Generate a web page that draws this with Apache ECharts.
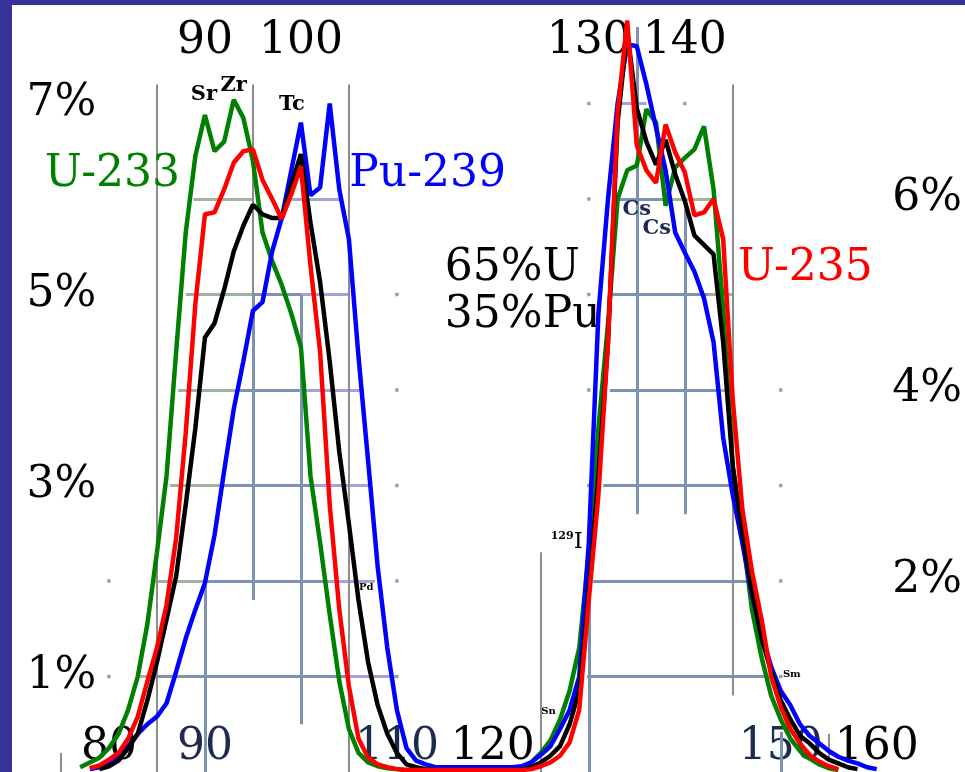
<!DOCTYPE html>
<html><head><meta charset="utf-8">
<style>html,body{margin:0;padding:0;background:#fff;overflow:hidden}#c{width:965px;height:772px}</style>
<script src="https://cdn.jsdelivr.net/npm/echarts@6.0.0/dist/echarts.min.js"></script>
</head><body><div id="c"></div>
<script>
// ---- data (fission product yield, % per mass number) ----
const masses = [76,77,78,79,80,81,82,83,84,85,
  86,87,88,89,90,91,92,93,94,95,
  96,97,98,99,100,101,102,103,104,105,
  106,107,108,109,110,111,112,113,114,115,
  116,117,118,119,120,121,122,123,124,125,
  126,127,128,129,130,131,132,133,134,135,
  136,137,138,139,140,141,142,143,144,145,
  146,147,148,149,150,151,152,153,154,155,
  156,157,158,159,160,161];
const u233 = [null,0.05,0.10,0.15,0.25,0.40,0.65,1.00,1.55,2.30,
  3.10,4.40,5.65,6.45,6.88,6.50,6.60,7.04,6.85,6.40,
  5.65,5.35,5.10,4.80,4.45,3.10,2.40,1.65,0.95,0.45,
  0.20,0.10,0.06,0.04,0.03,0.02,0.02,0.02,0.02,0.02,
  0.02,0.02,0.02,0.02,0.02,0.02,0.02,0.04,0.10,0.20,
  0.33,0.55,0.85,1.30,2.30,3.60,4.70,6.00,6.30,6.35,
  6.94,6.80,5.93,6.33,6.43,6.52,6.76,6.10,4.85,3.20,
  2.50,1.70,1.20,0.80,0.55,0.35,0.22,0.14,0.08,0.04,
  0.02,null,null,null,null,null];
const u235 = [null,null,0.04,0.07,0.13,0.20,0.35,0.58,0.95,1.30,
  1.75,2.45,3.55,4.90,5.84,5.86,6.10,6.38,6.50,6.52,
  6.20,6.00,5.79,6.05,6.34,5.30,4.40,2.80,1.70,0.90,
  0.35,0.15,0.08,0.05,0.03,0.02,0.02,0.02,0.02,0.02,
  0.02,0.02,0.02,0.02,0.02,0.02,0.02,0.02,0.03,0.06,
  0.10,0.17,0.31,0.65,1.80,2.90,4.50,6.90,7.87,6.56,
  6.30,6.17,6.78,6.49,6.28,5.83,5.86,6.00,5.58,3.90,
  2.75,2.10,1.60,1.00,0.68,0.45,0.30,0.18,0.11,0.06,
  0.03,null,null,null,null,null];
const pu239 = [null,null,0.03,0.05,0.10,0.18,0.27,0.40,0.50,0.58,
  0.72,1.05,1.40,1.70,1.98,2.48,3.15,3.80,4.30,4.83,
  4.92,5.45,5.80,6.30,6.80,6.04,6.12,7.00,6.10,5.58,
  4.35,3.26,2.15,1.30,0.65,0.25,0.12,0.08,0.05,0.05,
  0.05,0.05,0.05,0.05,0.05,0.05,0.05,0.06,0.10,0.18,
  0.27,0.45,0.65,1.00,2.40,4.80,6.00,7.00,7.62,7.60,
  7.20,6.75,6.30,5.65,5.44,5.24,4.96,4.50,3.50,2.90,
  2.40,1.85,1.45,1.10,0.85,0.70,0.50,0.38,0.30,0.22,
  0.16,0.12,0.09,0.05,0.03,null];
const mix = [null,null,null,0.03,0.06,0.12,0.25,0.40,0.75,1.15,
  1.60,2.05,2.80,3.60,4.55,4.70,5.05,5.45,5.72,5.94,
  5.84,5.80,5.80,6.15,6.47,5.75,5.13,4.30,3.35,2.60,
  1.80,1.15,0.70,0.40,0.20,0.08,0.05,0.03,0.02,0.02,
  0.02,0.02,0.02,0.02,0.02,0.02,0.02,0.02,0.05,0.10,
  0.17,0.27,0.50,0.85,1.90,3.10,4.50,6.80,7.75,6.95,
  6.60,6.36,6.62,6.26,5.98,5.62,5.52,5.42,4.50,3.20,
  2.50,1.90,1.40,1.05,0.75,0.55,0.38,0.30,0.20,0.13,
  0.09,0.05,0.03,null,null,null];

// tick labels
const topTicks = [90,100,130,140];
const bottomTicks = [80,90,110,120,150,160];
const leftTicks = [1,3,5,7];
const rightTicks = [2,4,6];

// partial grid pieces: [yield level, from mass, to mass]
const gridGreenish = [[6,88.8,95],[5,88,95],[4,87.2,93.3],[3,86.35,91.9],[2,84.8,89.8],[1,83.2,85],
  [6,138.1,143.3],[5,142.5,145],[4,143.5,144.3]];
const gridSteel = [[5,95,100],[4,93.3,99.9],[3,91.9,101.3],[2,89.8,102.7],[1,85,104.8],
  [6,133.1,138.1],[5,132.5,142.5],[4,132.2,143.5],[3,131.5,145],[2,130.45,146.6],[1,129.8,148.7]];
const gridLavender = [[6,98.9,104],[5,100,105],[4,99.9,106.3],[3,101.3,107.2],[2,102.7,107.7],[1,104.8,110.1],
  [7,132.9,136]];
// vertical pieces: [mass, from yield, to yield]
const vThin = [[75,0,0.2],[85,0,7.2],[95,5,7.2],[105,0,7.2],[125,0,2.3],[145,0.8,7.2],[155,0.14,0.4]];
const vThick = [[90,0,2.0],[95,1.8,5],[100,0.5,5.0],[130,0,2.0],[135,2.7,7.8],[140,2.7,6.0],[150,0,0.42]];
const tickDots = [[80,1],[80,2],[110,1],[110,2],[110,3],[110,4],[110,5],
  [130,3],[130,4],[130,5],[130,6],[130,7],[140,7],[150,1],[150,2],[150,3],[150,4]];

// ---- build ----
const serif = 'DejaVu Serif';
function pts(arr){ const out=[]; masses.forEach((m,i)=>{ if(arr[i]!==null) out.push([m,arr[i]]); }); return out; }
function hLines(list, color, w){ return list.map(s=>({coords:[[s[1],s[0]],[s[2],s[0]]], lineStyle:{color:color,width:w,opacity:1}})); }
function vLines(list, color, w){ return list.map(s=>({coords:[[s[0],s[1]],[s[0],s[2]]], lineStyle:{color:color,width:w,opacity:1}})); }

const gridLines = [].concat(
  hLines(gridGreenish,'#9db59d',3), hLines(gridSteel,'#7d91b1',3), hLines(gridLavender,'#a3a3d6',3),
  vLines(vThin,'#8c8c8c',2), vLines(vThick,'#7d91b1',3));

const big = {fontFamily:serif, fontSize:44};
const small = {fontFamily:serif, fontSize:21, fontWeight:'bold', color:'#000'};
const tiny = {fontFamily:serif, fontSize:10, fontWeight:'bold', color:'#000'};
function ann(text, m, v, style, align){
  return {name:text, value:[m,v], label:Object.assign({show:true, formatter:text, position:'inside', align:align||'center', verticalAlign:'middle', opacity:1}, style)};
}
const annotations = [
  ann('U-233', 80.36, 6.26, Object.assign({color:'#008000'}, big)),
  ann('Pu-239', 113.2, 6.26, Object.assign({color:'#0000ff'}, big)),
  ann('65%U', 115.0, 5.27, Object.assign({color:'#000'}, big), 'left'),
  ann('35%Pu', 115.0, 4.78, Object.assign({color:'#000'}, big), 'left'),
  ann('U-235', 152.55, 5.27, Object.assign({color:'#ff0000'}, big)),
  ann('Sr', 89.9, 7.09, small),
  ann('Zr', 93.0, 7.19, small),
  ann('Tc', 99.06, 6.99, small),
  ann('Cs', 135.0, 5.89, Object.assign({}, small, {color:'#1c2c50'})),
  ann('Cs', 137.08, 5.69, Object.assign({}, small, {color:'#1c2c50'})),
  ann('Pd', 106.8, 1.93, tiny),
  ann('Sn', 125.8, 0.635, tiny),
  ann('Sm', 151.15, 1.02, tiny),
  {name:'129I', value:[127.7,2.41], label:{show:true, position:'inside', align:'center', verticalAlign:'middle', opacity:1,
    formatter:'{s|129}{b|I}', rich:{s:{fontFamily:serif,fontSize:11,fontWeight:'bold',color:'#000',verticalAlign:'top',lineHeight:22},
    b:{fontFamily:serif,fontSize:23,color:'#000',lineHeight:22}}}}
];

const axisCommon = {type:'value', min:70, max:169, axisLine:{show:false}, axisTick:{show:false}, splitLine:{show:false}};
const yCommon = {type:'value', min:0, max:8, axisLine:{show:false}, axisTick:{show:false}, splitLine:{show:false}};
const bottomColors = {'80':'#000','90':'#1c2c50','110':'#1c2c50','120':'#000','150':'#1c2c50','160':'#000'};

const option = {
  animation:false,
  backgroundColor:'#fff',
  grid:{left:13, right:1.6, top:8, bottom:-4, containLabel:false},
  xAxis:[
    Object.assign({}, axisCommon, {position:'bottom', axisLabel:{inside:true, customValues:bottomTicks, margin:24, verticalAlign:'middle',
      fontFamily:serif, fontSize:44, color:function(v){ return bottomColors[String(Math.round(v))] || '#000'; }}}),
    Object.assign({}, axisCommon, {position:'top', axisLabel:{inside:true, customValues:topTicks, margin:34, verticalAlign:'middle',
      fontFamily:serif, fontSize:44, color:'#000'}})
  ],
  yAxis:[
    Object.assign({}, yCommon, {position:'left', axisLabel:{inside:true, customValues:leftTicks, margin:48.5, align:'center', verticalAlign:'middle',
      formatter:'{value}%', fontFamily:serif, fontSize:44, color:'#000'}}),
    Object.assign({}, yCommon, {position:'right', axisLabel:{inside:true, customValues:rightTicks, margin:36, align:'center', verticalAlign:'middle',
      formatter:'{value}%', fontFamily:serif, fontSize:44, color:'#000'}})
  ],
  graphic:[
    {type:'rect', shape:{x:0,y:0,width:12,height:772}, style:{fill:'#35339a'}, z:100},
    {type:'rect', shape:{x:0,y:0,width:965,height:5}, style:{fill:'#35339a'}, z:100}
  ],
  series:[
    {name:'grid', type:'lines', coordinateSystem:'cartesian2d', xAxisIndex:0, yAxisIndex:0, polyline:false, silent:true, z:1,
     symbol:'none', effect:{show:false}, lineStyle:{opacity:1}, data:gridLines},
    {name:'ticks', type:'scatter', xAxisIndex:0, yAxisIndex:0, symbol:'rect', symbolSize:3.5, silent:true, z:1,
     itemStyle:{color:'#a0a0a0', opacity:1}, data:tickDots},
    {name:'labels', type:'scatter', xAxisIndex:0, yAxisIndex:0, symbolSize:0, silent:true, z:2,
     itemStyle:{opacity:1}, data:annotations},
    {name:'U-233', type:'line', xAxisIndex:0, yAxisIndex:0, showSymbol:false, symbol:'none', z:3, lineStyle:{color:'#008000', width:4.5}, data:pts(u233)},
    {name:'Pu-239', type:'line', xAxisIndex:0, yAxisIndex:0, showSymbol:false, symbol:'none', z:4, lineStyle:{color:'#0000ff', width:4.5}, data:pts(pu239)},
    {name:'65%U 35%Pu', type:'line', xAxisIndex:0, yAxisIndex:0, showSymbol:false, symbol:'none', z:5, lineStyle:{color:'#000', width:4.5}, data:pts(mix)},
    {name:'U-235', type:'line', xAxisIndex:0, yAxisIndex:0, showSymbol:false, symbol:'none', z:6, lineStyle:{color:'#ff0000', width:4.5}, data:pts(u235)}
  ]
};
const chart = echarts.init(document.getElementById('c'), null, {renderer:'canvas'});
chart.setOption(option);
</script></body></html>
